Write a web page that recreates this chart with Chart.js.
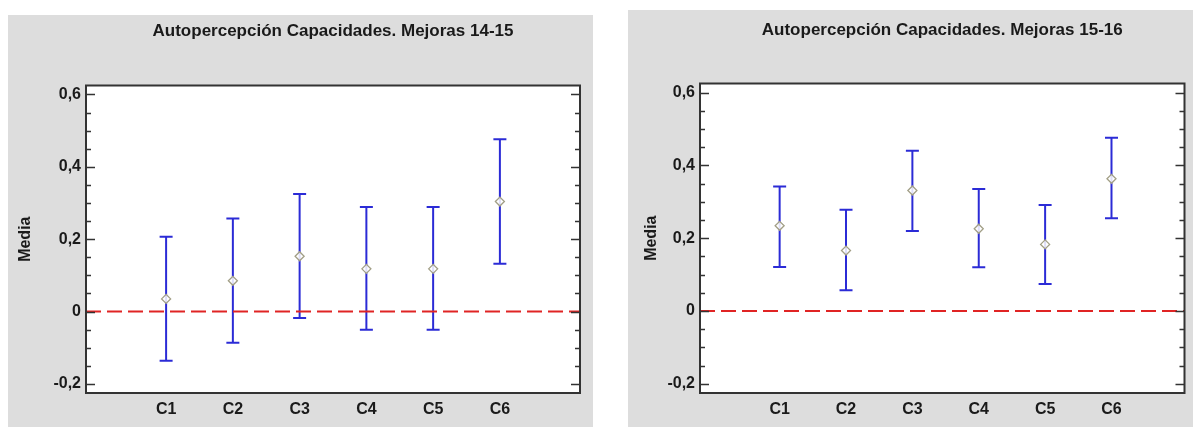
<!DOCTYPE html>
<html>
<head>
<meta charset="utf-8">
<script src="https://cdn.jsdelivr.net/npm/chart.js@4.4.0/dist/chart.umd.min.js"></script>
<style>
  body { margin: 0; background: #fff; width: 1193px; height: 427px; position: relative; overflow: hidden; }
  .panel { position: absolute; background: #dddddd; }
  .panel canvas { position: relative; z-index: 1; display: block; }
  .plotbg { position: absolute; background: #ffffff; z-index: 0; }
  #p1 { left: 8px; top: 15px; width: 585px; height: 412px; }
  #p2 { left: 628px; top: 10px; width: 565px; height: 417px; }
</style>
</head>
<body>
<div class="panel" id="p1"><div class="plotbg" id="bg1"></div><canvas id="chart1" width="585" height="412"></canvas></div>
<div class="panel" id="p2"><div class="plotbg" id="bg2"></div><canvas id="chart2" width="565" height="417"></canvas></div>
<script>
// Data
const categories = ['C1', 'C2', 'C3', 'C4', 'C5', 'C6'];

const mean1415 = [0.035, 0.085, 0.153, 0.118, 0.118, 0.304];
const low1415  = [-0.136, -0.086, -0.018, -0.050, -0.050, 0.132];
const high1415 = [0.207, 0.257, 0.325, 0.289, 0.289, 0.476];

const mean1516 = [0.234, 0.166, 0.331, 0.226, 0.183, 0.363];
const low1516  = [0.121, 0.057, 0.220, 0.120, 0.074, 0.255];
const high1516 = [0.342, 0.278, 0.440, 0.335, 0.291, 0.476];

const yTickValues = [-0.2, 0, 0.2, 0.4, 0.6];
const yTickLabels = ['-0,2', '0', '0,2', '0,4', '0,6'];

const FONT = "'Liberation Sans', Arial, sans-serif";
const BLUE = '#2b2bd6';

// Frame and inward tick marks (major every 0.2, minor every 0.05)
const framePlugin = {
    id: 'frame',
    afterDatasetsDraw(chart) {
        const { ctx, chartArea: a, scales: { y } } = chart;
        ctx.save();
        ctx.strokeStyle = '#333';
        ctx.lineWidth = 1.5;
        ctx.beginPath();
        for (let i = -4; i <= 12; i++) {
            const py = Math.round(y.getPixelForValue(i * 0.05)) + 0.5;
            const len = i % 4 === 0 ? 9 : 5;
            ctx.moveTo(a.left, py);
            ctx.lineTo(a.left + len, py);
            ctx.moveTo(a.right, py);
            ctx.lineTo(a.right - len, py);
        }
        ctx.stroke();
        ctx.lineWidth = 2;
        ctx.beginPath();
        ctx.rect(a.left, a.top, a.right - a.left, a.bottom - a.top);
        ctx.stroke();
        ctx.restore();
    }
};

function makeChart(id, bgId, title, means, lows, highs, layout) {
    const stems = [];
    categories.forEach((c, i) => {
        stems.push({ x: i + 1, y: lows[i] });
        stems.push({ x: i + 1, y: highs[i] });
        stems.push({ x: i + 1, y: null });
    });
    const caps = [];
    categories.forEach((c, i) => {
        caps.push({ x: i + 1, y: lows[i] });
        caps.push({ x: i + 1, y: highs[i] });
    });

    const chart = new Chart(document.getElementById(id), {
        type: 'scatter',
        data: {
            datasets: [
                {
                    // means
                    data: means.map((m, i) => ({ x: i + 1, y: m })),
                    pointStyle: 'rectRot',
                    pointRadius: 4.5,
                    borderColor: '#a29f86',
                    backgroundColor: 'rgba(255,255,255,0.85)',
                    borderWidth: 1.3
                },
                {
                    // zero reference line
                    data: [{ x: layout.xMin, y: 0 }, { x: layout.xMax, y: 0 }],
                    showLine: true,
                    borderColor: '#e02424',
                    borderWidth: 2,
                    borderDash: [15, 6],
                    pointRadius: 0
                },
                {
                    // caps
                    data: caps,
                    pointStyle: 'line',
                    pointRadius: 6.5,
                    borderColor: BLUE,
                    borderWidth: 2
                },
                {
                    // stems
                    data: stems,
                    showLine: true,
                    spanGaps: false,
                    borderColor: BLUE,
                    borderWidth: 2,
                    pointRadius: 0
                }
            ]
        },
        options: {
            responsive: false,
            animation: false,
            devicePixelRatio: 1,
            layout: { padding: { left: 0, right: layout.padRight, top: 0, bottom: 0 } },
            plugins: {
                legend: { display: false },
                tooltip: { enabled: false },
                title: {
                    display: true,
                    text: title,
                    fullSize: false,
                    color: '#1a1a1a',
                    font: { family: FONT, size: 17, weight: 'bold' },
                    padding: { top: layout.titleTop, bottom: layout.titleBottom }
                }
            },
            scales: {
                x: {
                    type: 'linear',
                    min: layout.xMin,
                    max: layout.xMax,
                    afterBuildTicks: (s) => { s.ticks = categories.map((c, i) => ({ value: i + 1 })); },
                    afterFit: (s) => { s.height = 34; },
                    grid: { display: false, drawTicks: false },
                    border: { display: false },
                    ticks: {
                        autoSkip: false,
                        maxRotation: 0,
                        padding: 7,
                        color: '#1a1a1a',
                        font: { family: FONT, size: 16, weight: 'bold' },
                        callback: (v) => categories[v - 1]
                    }
                },
                y: {
                    min: -0.225,
                    max: 0.625,
                    afterBuildTicks: (s) => { s.ticks = yTickValues.map(v => ({ value: v })); },
                    afterFit: (s) => { s.width = layout.yWidth; },
                    grid: { display: false, drawTicks: false },
                    border: { display: false },
                    ticks: {
                        padding: 5,
                        color: '#1a1a1a',
                        font: { family: FONT, size: 16, weight: 'bold' },
                        callback: (v) => yTickLabels[yTickValues.indexOf(v)]
                    },
                    title: {
                        display: true,
                        text: 'Media',
                        color: '#1a1a1a',
                        font: { family: FONT, size: 16, weight: 'bold' },
                        padding: { top: layout.yTitlePad, bottom: 0 }
                    }
                }
            }
        },
        plugins: [framePlugin]
    });

    // White plot background placed under the canvas from the chart's own layout
    const a = chart.chartArea;
    const bg = document.getElementById(bgId);
    bg.style.left = a.left + 'px';
    bg.style.top = a.top + 'px';
    bg.style.width = (a.right - a.left) + 'px';
    bg.style.height = (a.bottom - a.top) + 'px';
    return chart;
}

makeChart('chart1', 'bg1', 'Autopercepción Capacidades. Mejoras 14-15', mean1415, low1415, high1415,
    { xMin: -0.2, xMax: 7.2, padRight: 13, yWidth: 78, titleTop: 6, titleBottom: 44, yTitlePad: 8 });

makeChart('chart2', 'bg2', 'Autopercepción Capacidades. Mejoras 15-16', mean1516, low1516, high1516,
    { xMin: -0.2, xMax: 7.1, padRight: 3, yWidth: 72, titleTop: 10, titleBottom: 43, yTitlePad: 14 });
</script>
</body>
</html>
